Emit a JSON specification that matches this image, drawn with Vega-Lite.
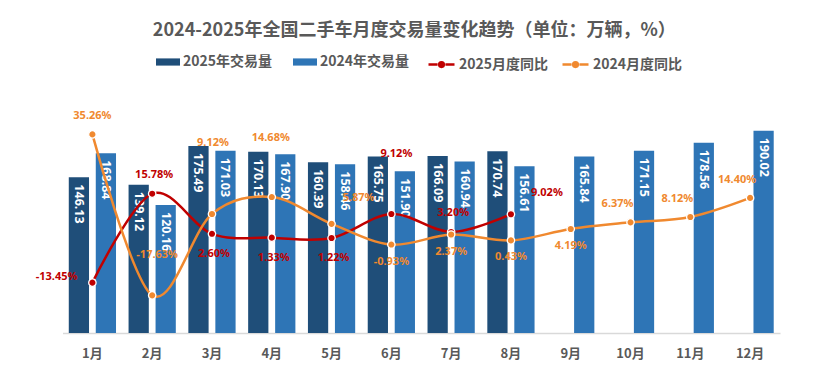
{
  "$schema": "https://vega.github.io/schema/vega-lite/v6.json",
  "width": 717.5,
  "height": 213,
  "autosize": {"type": "none"},
  "padding": {"left": 62.5, "top": 120, "right": 49, "bottom": 57},
  "background": "white",
  "config": {
    "view": {"stroke": null},
    "font": "Noto Sans CJK SC",
    "locale": {"number": {"decimal": ".", "thousands": ",", "grouping": [3], "currency": ["", ""], "minus": "-"}}
  },
  "title": {
    "text": "2024-2025年全国二手车月度交易量变化趋势（单位：万辆，%）",
    "fontSize": 18, "fontWeight": "bold", "color": "#595959",
    "font": "Noto Sans CJK SC", "anchor": "middle", "offset": 10, "dx": -7
  },
  "data": {"values": [
    {"m": "1月", "year": "2025", "vol": 146.13, "yoy": -0.1345},
    {"m": "2月", "year": "2025", "vol": 139.12, "yoy": 0.1578},
    {"m": "3月", "year": "2025", "vol": 175.49, "yoy": 0.0260},
    {"m": "4月", "year": "2025", "vol": 170.13, "yoy": 0.0133},
    {"m": "5月", "year": "2025", "vol": 160.39, "yoy": 0.0122},
    {"m": "6月", "year": "2025", "vol": 165.75, "yoy": 0.0912},
    {"m": "7月", "year": "2025", "vol": 166.09, "yoy": 0.0320},
    {"m": "8月", "year": "2025", "vol": 170.74, "yoy": 0.0902},
    {"m": "1月", "year": "2024", "vol": 168.84, "yoy": 0.3526},
    {"m": "2月", "year": "2024", "vol": 120.16, "yoy": -0.1763},
    {"m": "3月", "year": "2024", "vol": 171.03, "yoy": 0.0912},
    {"m": "4月", "year": "2024", "vol": 167.90, "yoy": 0.1468},
    {"m": "5月", "year": "2024", "vol": 158.46, "yoy": 0.0587},
    {"m": "6月", "year": "2024", "vol": 151.90, "yoy": -0.0093},
    {"m": "7月", "year": "2024", "vol": 160.94, "yoy": 0.0237},
    {"m": "8月", "year": "2024", "vol": 156.61, "yoy": 0.0043},
    {"m": "9月", "year": "2024", "vol": 165.84, "yoy": 0.0419},
    {"m": "10月", "year": "2024", "vol": 171.15, "yoy": 0.0637},
    {"m": "11月", "year": "2024", "vol": 178.56, "yoy": 0.0812},
    {"m": "12月", "year": "2024", "vol": 190.02, "yoy": 0.1440}
  ]},
  "encoding": {
    "x": {
      "field": "m", "type": "nominal",
      "sort": ["1月","2月","3月","4月","5月","6月","7月","8月","9月","10月","11月","12月"],
      "scale": {"paddingInner": 0.21, "paddingOuter": 0.105},
      "axis": {
        "title": null, "domainColor": "#D9D9D9", "domainWidth": 1.5, "ticks": false,
        "grid": false, "labelAngle": 0, "labelFont": "Noto Sans CJK SC", "labelFontSize": 13,
        "labelFontWeight": "bold", "labelColor": "#595959", "labelPadding": 14
      }
    }
  },
  "layer": [
    {
      "encoding": {
        "xOffset": {"field": "year", "type": "nominal", "sort": ["2025", "2024"], "scale": {"paddingInner": 0.25, "paddingOuter": 0}},
        "y": {"field": "vol", "type": "quantitative", "scale": {"domain": [0, 200], "nice": false, "zero": true}, "axis": null}
      },
      "layer": [
        {
          "mark": {"type": "bar"},
          "encoding": {
            "fill": {
              "field": "year", "type": "nominal",
              "scale": {"domain": ["2025", "2024"], "range": ["#1F4E79", "#2E75B6"]},
              "legend": {
                "title": null, "orient": "none", "direction": "horizontal",
                "legendX": 93.5, "legendY": -70, "columnPadding": 20,
                "symbolType": "M-1,-0.3H1V0.3H-1Z", "symbolSize": 576, "symbolStrokeWidth": 0,
                "labelExpr": "datum.label + '年交易量'", "labelFont": "Noto Sans CJK SC",
                "labelFontSize": 14, "labelFontWeight": "bold", "labelColor": "#595959", "labelOffset": 3
              }
            }
          }
        },
        {
          "mark": {"type": "text", "angle": 90, "align": "left", "baseline": "middle", "dx": 7, "color": "white", "fontSize": 12.5, "fontWeight": "bold", "font": "Noto Sans"},
          "encoding": {"text": {"field": "vol", "type": "quantitative", "format": ".2f"}}
        }
      ]
    },
    {
      "transform": [{"calculate": "datum.year + '月度同比'", "as": "series"}],
      "encoding": {
        "y": {"field": "yoy", "type": "quantitative", "scale": {"domain": [-0.3, 0.4], "nice": false, "zero": false}, "axis": null},
        "text": {"field": "yoy", "type": "quantitative", "format": ".2%"}
      },
      "layer": [
        {
          "mark": {"type": "line", "interpolate": "cardinal", "strokeWidth": 2.5},
          "encoding": {
            "stroke": {
              "field": "series", "type": "nominal",
              "scale": {"domain": ["2025月度同比", "2024月度同比"], "range": ["#C00000", "#F0892F"]},
              "legend": {
                "title": null, "orient": "none", "direction": "horizontal",
                "legendX": 364.5, "legendY": -70, "columnPadding": 8,
                "symbolType": "M-1,0H-0.3M0.3,0H1M-0.18,0A0.18,0.18,0,1,1,0.18,0A0.18,0.18,0,1,1,-0.18,0Z",
                "symbolSize": 676, "symbolStrokeWidth": 2.5,
                "labelFont": "Noto Sans CJK SC",
                "labelFontSize": 14, "labelFontWeight": "bold", "labelColor": "#595959", "labelOffset": 3,
                "encode": {"symbols": {"update": {"fill": {"scale": "stroke", "field": "value"}}}}
              }
            }
          }
        },
        {
          "mark": {"type": "point", "filled": true, "size": 55, "stroke": "white", "strokeWidth": 1.3, "opacity": 1},
          "encoding": {
            "color": {"field": "series", "type": "nominal", "scale": {"domain": ["2025月度同比", "2024月度同比"], "range": ["#C00000", "#F0892F"]}, "legend": null}
          }
        },
        {"transform": [{"filter": "datum.year == '2025' && datum.m == '1月'"}],
         "mark": {"type": "text", "align": "right", "dx": -15, "dy": -6, "color": "#C00000", "fontSize": 11, "fontWeight": "bold", "font": "Noto Sans"}},
        {"transform": [{"filter": "datum.year == '2025' && indexof(['2月','7月'], datum.m) >= 0"}],
         "mark": {"type": "text", "dx": 2, "dy": -19, "color": "#C00000", "fontSize": 11, "fontWeight": "bold", "font": "Noto Sans"}},
        {"transform": [{"filter": "datum.year == '2025' && indexof(['3月','4月','5月'], datum.m) >= 0"}],
         "mark": {"type": "text", "dx": 2, "dy": 20, "color": "#C00000", "fontSize": 11, "fontWeight": "bold", "font": "Noto Sans"}},
        {"transform": [{"filter": "datum.year == '2025' && datum.m == '6月'"}],
         "mark": {"type": "text", "dx": 5, "dy": -60, "color": "#C00000", "fontSize": 11, "fontWeight": "bold", "font": "Noto Sans"}},
        {"transform": [{"filter": "datum.year == '2025' && datum.m == '8月'"}],
         "mark": {"type": "text", "align": "left", "dx": 20, "dy": -21, "color": "#C00000", "fontSize": 11, "fontWeight": "bold", "font": "Noto Sans"}},
        {"transform": [{"filter": "datum.year == '2024' && datum.m == '1月'"}],
         "mark": {"type": "text", "dy": -18, "color": "#F0892F", "fontSize": 11, "fontWeight": "bold", "font": "Noto Sans"}},
        {"transform": [{"filter": "datum.year == '2024' && datum.m == '2月'"}],
         "mark": {"type": "text", "dx": 5, "dy": -40, "color": "#F0892F", "fontSize": 11, "fontWeight": "bold", "font": "Noto Sans"}},
        {"transform": [{"filter": "datum.year == '2024' && datum.m == '3月'"}],
         "mark": {"type": "text", "dx": 1, "dy": -71, "color": "#F0892F", "fontSize": 11, "fontWeight": "bold", "font": "Noto Sans"}},
        {"transform": [{"filter": "datum.year == '2024' && datum.m == '4月'"}],
         "mark": {"type": "text", "dx": -1, "dy": -59, "color": "#F0892F", "fontSize": 11, "fontWeight": "bold", "font": "Noto Sans"}},
        {"transform": [{"filter": "datum.year == '2024' && datum.m == '5月'"}],
         "mark": {"type": "text", "dx": 27, "dy": -26, "color": "#F0892F", "fontSize": 11, "fontWeight": "bold", "font": "Noto Sans"}},
        {"transform": [{"filter": "datum.year == '2024' && indexof(['6月','7月','8月','9月'], datum.m) >= 0"}],
         "mark": {"type": "text", "dx": 0, "dy": 17, "color": "#F0892F", "fontSize": 11, "fontWeight": "bold", "font": "Noto Sans"}},
        {"transform": [{"filter": "datum.year == '2024' && indexof(['10月','11月','12月'], datum.m) >= 0"}],
         "mark": {"type": "text", "dx": -13, "dy": -18, "color": "#F0892F", "fontSize": 11, "fontWeight": "bold", "font": "Noto Sans"}}
      ]
    }
  ],
  "resolve": {"scale": {"y": "independent"}}
}
